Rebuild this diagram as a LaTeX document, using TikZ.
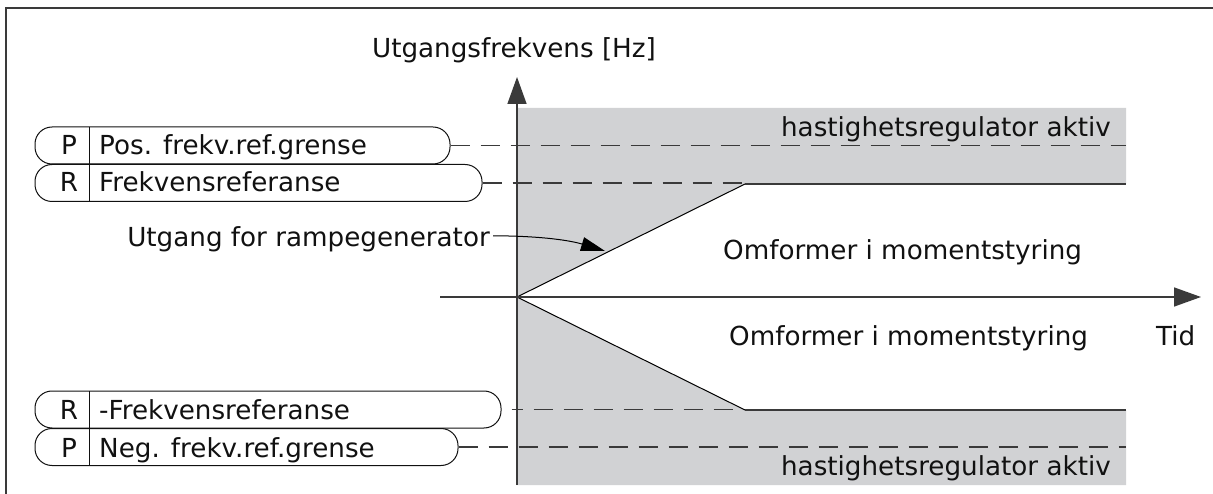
\documentclass[tikz,border=0pt]{standalone}
\usepackage{fontspec}
\setmainfont{DejaVu Sans}
\usetikzlibrary{arrows.meta}
\definecolor{bggray}{HTML}{D1D2D4}
\definecolor{linegray}{HTML}{3A3A3A}
\definecolor{txt}{HTML}{111111}
\begin{document}
\begin{tikzpicture}[x=1pt,y=-1pt,
  font=\fontsize{26.2}{30}\selectfont,
  every node/.style={text=txt},
  pill/.style={draw=txt, line width=1pt, rounded corners=17pt, minimum width=#1, minimum height=37pt, inner sep=0pt},
  lbl/.style={inner sep=0pt},
  divider/.style={draw=txt, line width=1pt},
  refdash/.style={draw=linegray, line width=1.3pt, dash pattern=on 19pt off 11pt},
  axis/.style={draw=linegray, line width=1.5pt},
  ramp/.style={draw=black, line width=1pt},
  reflevel/.style={draw=linegray, line width=1.6pt},
  frame/.style={draw=linegray, line width=1.2pt},
  conn/.style={draw=black, line width=1pt},
  tipA/.style={-{Triangle[length=27pt,width=19pt]}}
]
\useasboundingbox (0,0) rectangle (1213,494);
\fill[white] (0,0) rectangle (1213,494);
% frame
\draw[frame] (1213,8) -- (6,8) -- (6,494);
% coordinates
\coordinate (O) at (517,297);
\coordinate (Ru) at (745,184);
\coordinate (Rl) at (745,410);
\coordinate (Eu) at (1126,184);
\coordinate (El) at (1126,410);
\coordinate (Pu) at (1126,146);
\coordinate (Pl) at (1126,447);
\coordinate (tip) at (605,251);
% gray region
\fill[bggray] (517,108) -- (1126,108) -- (Eu) -- (Ru) -- (O) -- (Rl) -- (El) -- (1126,485) -- (517,485) -- cycle;
% pills
\node[pill=415pt] (pp) at (242.5,145.5) {};
\node[pill=447pt] (rr) at (258.5,183) {};
\node[pill=466pt] (rn) at (268,409.5) {};
\node[pill=423pt] (pn) at (246.5,447) {};
\draw[divider] (89,127) -- (89,202);
\draw[divider] (89,391) -- (89,466);
\node[lbl,anchor=base] (lp) at (69,155) {P};
\node[lbl,anchor=base] (lr) at (69,192) {R};
\node[lbl,anchor=base] (lrn) at (69,419) {R};
\node[lbl,anchor=base] (lpn) at (69,457) {P};
\node[lbl,anchor=base west] (tp) at (99,155) {Pos. frekv.ref.grense};
\node[lbl,anchor=base west] (tr) at (99,192) {Frekvensreferanse};
\node[lbl,anchor=base west] (trn) at (99,419) {-Frekvensreferanse};
\node[lbl,anchor=base west] (tpn) at (99,457) {Neg. frekv.ref.grense};
% dashed reference lines
\draw[refdash] (pp.east) -- (pp.east -| Pu);
\draw[refdash] (rr.east) -- (rr.east -| Ru);
\draw[refdash, dash phase=8pt] ([xshift=10pt]rn.east) -- (rn.east -| Rl);
\draw[refdash] (pn.east) -- (pn.east -| Pl);
% ramps and levels
\draw[ramp] (O) -- (Ru);
\draw[ramp] (O) -- (Rl);
\draw[reflevel] (Ru) -- (Eu);
\draw[reflevel] (Rl) -- (El);
% axes
\coordinate (ytop) at (517,77);
\coordinate (ybot) at (517,485);
\coordinate (xleft) at (440,297);
\coordinate (xright) at (1201,297);
\draw[axis,tipA] (ybot) -- (ytop);
\draw[axis,tipA] (xleft) -- (xright);
% texts
\node[lbl,anchor=base] (ylab) at (514,58) {Utgangsfrekvens [Hz]};
\node[lbl,anchor=base east] (hr1) at (1111,137) {hastighetsregulator aktiv};
\node[lbl,anchor=base east] (hr2) at (1111,475) {hastighetsregulator aktiv};
\node[lbl,anchor=base west] (om1) at (723,260) {Omformer i momentstyring};
\node[lbl,anchor=base west] (om2) at (729,345) {Omformer i momentstyring};
\node[lbl,anchor=base west] (tid) at (1156,345) {Tid};
\node[lbl,anchor=base east] (rg) at (490,247) {Utgang for rampegenerator};
% connector
\draw[conn, -{Triangle[length=24pt,width=14pt]}] ([xshift=3pt,yshift=4pt]rg.east) .. controls (545,236) and (572,241) .. (tip);
\end{tikzpicture}
\end{document}
